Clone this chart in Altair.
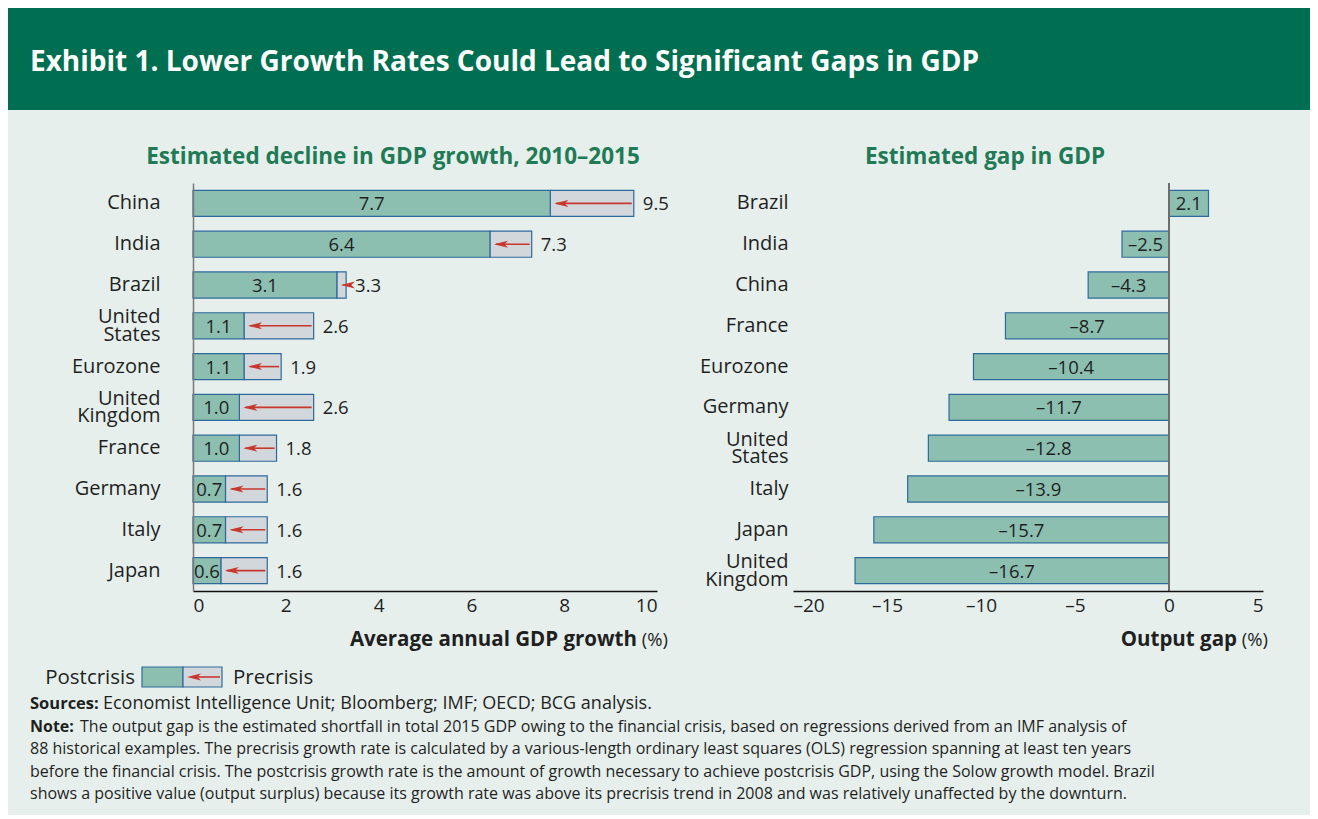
import altair as alt
import pandas as pd

# ---------------- data ----------------
TITLE = "Exhibit 1. Lower Growth Rates Could Lead to Significant Gaps in GDP"
SUB_LEFT = "Estimated decline in GDP growth, 2010–2015"
SUB_RIGHT = "Estimated gap in GDP"

growth_countries = ["China", "India", "Brazil", "United States", "Eurozone",
                    "United Kingdom", "France", "Germany", "Italy", "Japan"]
postcrisis = [7.7, 6.4, 3.1, 1.1, 1.1, 1.0, 1.0, 0.7, 0.7, 0.6]
precrisis = [9.5, 7.3, 3.3, 2.6, 1.9, 2.6, 1.8, 1.6, 1.6, 1.6]

gap_countries = ["Brazil", "India", "China", "France", "Eurozone", "Germany",
                 "United States", "Italy", "Japan", "United Kingdom"]
output_gap = [2.1, -2.5, -4.3, -8.7, -10.4, -11.7, -12.8, -13.9, -15.7, -16.7]

growth_ticks = [0, 2, 4, 6, 8, 10]
gap_ticks = [-20, -15, -10, -5, 0, 5]

LEFT_AXIS_TITLE = ["Average annual GDP growth", "(%)"]
RIGHT_AXIS_TITLE = ["Output gap", "(%)"]
LEGEND_LABELS = ["Postcrisis", "Precrisis"]
SOURCES = ["Sources:", "Economist Intelligence Unit; Bloomberg; IMF; OECD; BCG analysis."]
NOTE_HEAD = "Note:"
NOTE_LINES = [
    "The output gap is the estimated shortfall in total 2015 GDP owing to the financial crisis, based on regressions derived from an IMF analysis of",
    "88 historical examples. The precrisis growth rate is calculated by a various-length ordinary least squares (OLS) regression spanning at least ten years",
    "before the financial crisis. The postcrisis growth rate is the amount of growth necessary to achieve postcrisis GDP, using the Solow growth model. Brazil",
    "shows a positive value (output surplus) because its growth rate was above its precrisis trend in 2008 and was relatively unaffected by the downturn.",
]

# ---------------- style ----------------
INK = "#1f1f1f"
TEAL = "#8dbfb1"
GREY = "#d2d7dc"
BLUE = "#2d6a9b"
RED = "#c8372d"
HEAD = "#006e51"
SUBC = "#1f7a55"
BG = "#e6efec"
FONT = "Open Sans"

W_L, W_R, H, GAP = 464, 470, 408, 136
OX, OY = -185, -175          # chart origin relative to the left plot area
CHART_W, CHART_BOTTOM = 1302, 632
ARROW = "M -1 0 L 1 -0.5 L 0.5 0 L 1 0.5 Z"
MULTI = {"condition": {"test": "indexof(datum.value, ' ') >= 0", "value": -8.5}, "value": 0}

one = pd.DataFrame({"k": [0]})


def text(s, x, y, size, weight="normal", color=INK, align="left"):
    return alt.Chart(one).mark_text(
        font=FONT, fontSize=size, fontWeight=weight, color=color,
        align=align, baseline="alphabetic"
    ).encode(x=alt.value(x), y=alt.value(y), text=alt.value(s))


def rect(x1, x2, y1, y2, fill, stroke=None):
    kw = dict(fill=fill)
    if stroke:
        kw.update(stroke=stroke, strokeWidth=1.2)
    return alt.Chart(one).mark_rect(**kw).encode(
        x=alt.value(x1), x2=alt.value(x2), y=alt.value(y1), y2=alt.value(y2))


# ---------------- left panel ----------------
df_l = pd.DataFrame({"country": growth_countries, "post": postcrisis, "pre": precrisis})
df_l["post_lbl"] = [f"{v:.1f}" for v in postcrisis]
df_l["pre_lbl"] = [f"{v:.1f}" for v in precrisis]

Y_L = alt.Y("country:N", sort=growth_countries,
            scale=alt.Scale(paddingInner=0.36, paddingOuter=0.18),
            axis=alt.Axis(title=None, ticks=False, domainColor="#7a7a7a", domainWidth=1.5,
                          labelFont=FONT, labelFontSize=20, labelColor=INK, labelPadding=33,
                          labelExpr="split(datum.label, ' ')", labelLineHeight=17.5,
                          labelOffset=MULTI, labelLimit=300, zindex=1))
XS_L = alt.Scale(domain=[0, 10], nice=False)
XA_L = alt.Axis(values=growth_ticks, title=None, grid=False, ticks=False, domainColor="#111111",
                domainWidth=1.5, labelFont=FONT, labelFontSize=19, labelColor=INK,
                labelPadding=5, format="d", zindex=1)

base_l = alt.Chart(df_l)
pre_bar = base_l.mark_bar(fill=GREY, stroke=BLUE, strokeWidth=1.2).encode(
    x=alt.X("post:Q", scale=XS_L, axis=XA_L), x2="pre:Q", y=Y_L)
post_bar = base_l.mark_bar(fill=TEAL, stroke=BLUE, strokeWidth=1.2).encode(
    x=alt.X("post:Q", scale=XS_L, axis=XA_L), y=Y_L)
arrow_line = base_l.mark_rule(color=RED, strokeWidth=1.6, xOffset=6, x2Offset=-2).encode(
    x=alt.X("post:Q", scale=XS_L, axis=XA_L), x2="pre:Q", y=Y_L)
arrow_head = base_l.mark_point(shape=ARROW, filled=True, color=RED, opacity=1, size=196,
                               strokeWidth=0, xOffset=11).encode(
    x=alt.X("post:Q", scale=XS_L, axis=XA_L), y=Y_L)
post_txt = base_l.transform_calculate(mid="datum.post / 2").mark_text(
    font=FONT, fontSize=18.5, color=INK, baseline="middle", dy=1).encode(
    x=alt.X("mid:Q", scale=XS_L, axis=XA_L), y=Y_L, text="post_lbl:N")
pre_txt = base_l.mark_text(font=FONT, fontSize=18.5, color=INK, align="left",
                           baseline="middle", dx=9, dy=1).encode(
    x=alt.X("pre:Q", scale=XS_L, axis=XA_L), y=Y_L, text="pre_lbl:N")

decor = [
    rect(OX, OX + CHART_W, OY, CHART_BOTTOM, BG),
    rect(OX, OX + CHART_W, OY, -73, HEAD),
    text(TITLE, -163, -112, 28, "bold", "white"),
    text(SUB_LEFT, 200, -19, 22.5, "bold", SUBC, "center"),
    text(SUB_RIGHT, 792, -19, 22.5, "bold", SUBC, "center"),
]
foot = [
    text(LEFT_AXIS_TITLE[0], 444, 463, 20.5, "bold", INK, "right"),
    text(LEFT_AXIS_TITLE[1], 475, 463, 18.5, "normal", INK, "right"),
    text(LEGEND_LABELS[0], -58, 501, 20.5, "normal", INK, "right"),
    rect(-51, -10, 484, 504, TEAL, BLUE),
    rect(-10, 29, 484, 504, GREY, BLUE),
    alt.Chart(one).mark_rule(color=RED, strokeWidth=1.6).encode(
        x=alt.value(27), x2=alt.value(-2), y=alt.value(494)),
    alt.Chart(one).mark_point(shape=ARROW, filled=True, color=RED, opacity=1, size=196,
                              strokeWidth=0).encode(x=alt.value(1), y=alt.value(494)),
    text(LEGEND_LABELS[1], 40, 501, 20.5, "normal", INK, "left"),
    text(SOURCES[0], -163, 526, 16.5, "bold"),
    text(SOURCES[1], -90, 526, 18),
    text(NOTE_HEAD, -163, 549, 16, "bold"),
    text(NOTE_LINES[0], -113, 549, 16),
]
for i, line in enumerate(NOTE_LINES[1:]):
    foot.append(text(line, -163, 571 + i * 22.7, 16))

left = alt.layer(*decor, pre_bar, post_bar, arrow_line, arrow_head, post_txt, pre_txt,
                 *foot).properties(width=W_L, height=H)

# ---------------- right panel ----------------
df_r = pd.DataFrame({"country": gap_countries, "gap": output_gap})
df_r["lbl"] = [f"{v:.1f}".replace("-", "–") for v in output_gap]

Y_R = alt.Y("country:N", sort=gap_countries,
            scale=alt.Scale(paddingInner=0.36, paddingOuter=0.18),
            axis=alt.Axis(title=None, ticks=False, domain=False,
                          labelFont=FONT, labelFontSize=20, labelColor=INK, labelPadding=5,
                          labelExpr="split(datum.label, ' ')", labelLineHeight=17.5,
                          labelOffset=MULTI, labelLimit=300, zindex=1))
XS_R = alt.Scale(domain=[-20, 5], nice=False)
XA_R = alt.Axis(values=gap_ticks, title=None, grid=False, ticks=False, domainColor="#111111",
                domainWidth=1.5, labelFont=FONT, labelFontSize=19, labelColor=INK,
                labelPadding=5, labelExpr="replace(datum.label, /[-−]/, '–')", zindex=1)

base_r = alt.Chart(df_r)
gap_bar = base_r.mark_bar(fill=TEAL, stroke=BLUE, strokeWidth=1.2).encode(
    x=alt.X("gap:Q", scale=XS_R, axis=XA_R), y=Y_R)
zero_rule = base_r.mark_rule(color="#6e6e6e", strokeWidth=1.5).encode(x=alt.datum(0))
gap_txt = base_r.transform_calculate(mid="datum.gap / 2").mark_text(
    font=FONT, fontSize=18.5, color=INK, baseline="middle", dy=1).encode(
    x=alt.X("mid:Q", scale=XS_R, axis=XA_R), y=Y_R, text="lbl:N")

right = alt.layer(
    gap_bar, zero_rule, gap_txt,
    text(RIGHT_AXIS_TITLE[0], 444, 463, 20.5, "bold", INK, "right"),
    text(RIGHT_AXIS_TITLE[1], 475, 463, 18.5, "normal", INK, "right"),
).properties(width=W_R, height=H)

chart = alt.hconcat(left, right, spacing=GAP, bounds="flush", padding=0).configure(
    background=BG).configure_view(strokeWidth=0)

chart.save("out.html", embed_options={"renderer": "svg", "actions": False})
